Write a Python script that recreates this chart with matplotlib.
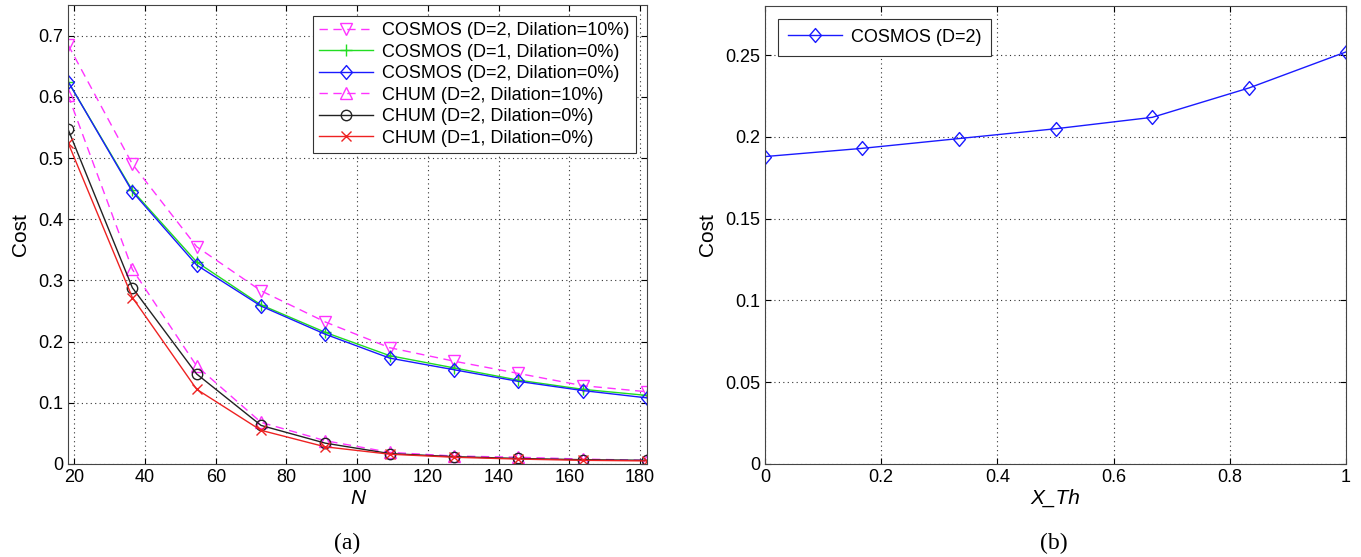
import matplotlib
matplotlib.use('Agg')
import matplotlib.pyplot as plt
from matplotlib.path import Path
import numpy as np

plt.rcParams['font.family'] = ['Liberation Sans', 'DejaVu Sans']

# (a) cost vs number of nodes N
N = [18.2, 36.4, 54.6, 72.8, 91.0, 109.2, 127.4, 145.6, 163.8, 182.0]
cosmos_d2_dil10 = [0.685, 0.490, 0.355, 0.283, 0.232, 0.190, 0.168, 0.148, 0.128, 0.118]
cosmos_d1_dil0 = [0.625, 0.447, 0.330, 0.260, 0.215, 0.177, 0.157, 0.137, 0.122, 0.112]
cosmos_d2_dil0 = [0.625, 0.445, 0.325, 0.258, 0.212, 0.173, 0.154, 0.135, 0.120, 0.108]
chum_d2_dil10 = [0.603, 0.318, 0.160, 0.068, 0.038, 0.019, 0.013, 0.011, 0.008, 0.006]
chum_d2_dil0 = [0.547, 0.288, 0.147, 0.063, 0.034, 0.017, 0.012, 0.009, 0.007, 0.006]
chum_d1_dil0 = [0.525, 0.272, 0.122, 0.055, 0.028, 0.016, 0.011, 0.008, 0.006, 0.005]

# (b) cost vs threshold X_Th
x_th = [0, 1/6, 2/6, 3/6, 4/6, 5/6, 1]
cosmos_xth = [0.188, 0.193, 0.199, 0.205, 0.212, 0.230, 0.252]

# MATLAB-like diamond (a bit narrower than tall)
diamond = Path([(0, 1), (0.85, 0), (0, -1), (-0.85, 0), (0, 1)],
               [Path.MOVETO, Path.LINETO, Path.LINETO, Path.LINETO, Path.CLOSEPOLY])


def matlab_axes(ax):
    ax.grid(True, linestyle=(0, (1, 3)), color='#333333', linewidth=0.8)
    ax.tick_params(direction='in', top=True, right=True, labelsize=13, length=4)
    for s in ax.spines.values():
        s.set_linewidth(0.8)
        s.set_color('#444444')


fig = plt.figure(figsize=(13.61, 5.57), dpi=100)
ax1 = fig.add_axes([0.0500, 0.167, 0.4254, 0.824])
ax2 = fig.add_axes([0.5621, 0.167, 0.4269, 0.822])

lw = 1.0
ax1.plot(N, cosmos_d2_dil10, '--', color='#ff33ff', lw=lw, marker='v', ms=8.5, mfc='none',
         label='COSMOS (D=2, Dilation=10%)', dashes=(6, 4))
ax1.plot(N, cosmos_d1_dil0, '-', color='#22dd22', lw=lw, marker='+', ms=9,
         label='COSMOS (D=1, Dilation=0%)')
ax1.plot(N, cosmos_d2_dil0, '-', color='#1a1aff', lw=lw, marker=diamond, ms=10, mfc='none',
         label='COSMOS (D=2, Dilation=0%)')
ax1.plot(N, chum_d2_dil10, '--', color='#ff33ff', lw=lw, marker='^', ms=8.5, mfc='none',
         label='CHUM (D=2, Dilation=10%)', dashes=(6, 4))
ax1.plot(N, chum_d2_dil0, '-', color='#222222', lw=lw, marker='o', ms=7.5, mfc='none',
         label='CHUM (D=2, Dilation=0%)')
ax1.plot(N, chum_d1_dil0, '-', color='#ee2222', lw=lw, marker='x', ms=6.5,
         label='CHUM (D=1, Dilation=0%)')

ax1.set_xlim(18.2, 182)
ax1.set_ylim(0, 0.75)
ax1.set_xticks(np.arange(20, 181, 20))
ax1.set_yticks(np.arange(0, 0.71, 0.1))
ax1.set_yticklabels(['0', '0.1', '0.2', '0.3', '0.4', '0.5', '0.6', '0.7'])
ax1.set_xlabel('N', fontsize=15, style='italic', labelpad=2)
ax1.set_ylabel('Cost', fontsize=15, labelpad=6)
matlab_axes(ax1)
leg1 = ax1.legend(loc='upper right', fontsize=13, fancybox=False, framealpha=1,
                  edgecolor='#333333', handlelength=3.0, borderaxespad=0.6,
                  labelspacing=0.25, borderpad=0.35, handletextpad=0.5)
leg1.get_frame().set_linewidth(0.8)

ax2.plot(x_th, cosmos_xth, '-', color='#1a1aff', lw=lw, marker=diamond, ms=10, mfc='none',
         label='COSMOS (D=2)')
ax2.set_xlim(0, 1)
ax2.set_ylim(0, 0.28)
ax2.set_xticks([0, 0.2, 0.4, 0.6, 0.8, 1])
ax2.set_xticklabels(['0', '0.2', '0.4', '0.6', '0.8', '1'])
ax2.set_yticks([0, 0.05, 0.1, 0.15, 0.2, 0.25])
ax2.set_yticklabels(['0', '0.05', '0.1', '0.15', '0.2', '0.25'])
ax2.set_xlabel('X_Th', fontsize=15, style='italic', labelpad=2)
ax2.set_ylabel('Cost', fontsize=15, labelpad=6)
matlab_axes(ax2)
leg2 = ax2.legend(loc='upper left', fontsize=13, fancybox=False, framealpha=1,
                  edgecolor='#333333', handlelength=3.0, borderaxespad=0.7,
                  borderpad=0.55, handletextpad=0.5)
leg2.get_frame().set_linewidth(0.8)

fig.text(0.255, 0.015, '(a)', ha='center', fontsize=17, family='Liberation Serif')
fig.text(0.774, 0.015, '(b)', ha='center', fontsize=17, family='Liberation Serif')

fig.savefig('out.png', dpi=100, facecolor='white')
